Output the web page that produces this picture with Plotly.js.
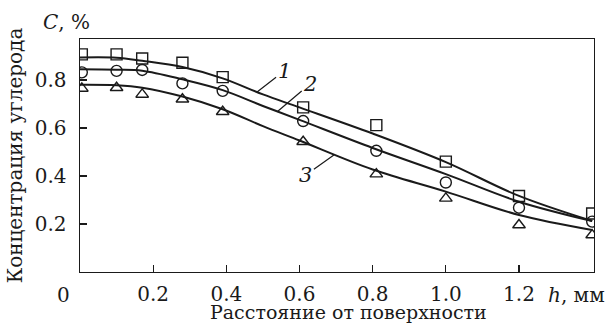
<!DOCTYPE html>
<html>
<head>
<meta charset="utf-8">
<script src="https://cdn.plot.ly/plotly-3.0.1.min.js"></script>
<style>html,body{margin:0;padding:0;background:#fff;}#chart{width:607px;height:323px;}</style>
</head>
<body>
<div id="chart"></div>
<script>
// Measured points
const hPts = [0.005, 0.10, 0.17, 0.28, 0.39, 0.61, 0.81, 1.00, 1.20, 1.40];
const c1Pts = [0.907, 0.907, 0.890, 0.872, 0.812, 0.686, 0.612, 0.460, 0.317, 0.244];
const c2Pts = [0.832, 0.838, 0.842, 0.786, 0.755, 0.629, 0.505, 0.373, 0.268, 0.210];
const c3Pts = [0.765, 0.768, 0.740, 0.720, 0.668, 0.543, 0.408, 0.307, 0.196, 0.154];
// Fitted curves
const hCurve = [0.0, 0.10, 0.17, 0.28, 0.39, 0.50, 0.60, 0.80, 1.00, 1.20, 1.40];
const c1Curve = [0.894, 0.893, 0.880, 0.854, 0.807, 0.740, 0.686, 0.577, 0.458, 0.317, 0.2125];
const c2Curve = [0.845, 0.843, 0.839, 0.803, 0.758, 0.692, 0.634, 0.517, 0.408, 0.293, 0.2125];
const c3Curve = [0.780, 0.778, 0.768, 0.731, 0.678, 0.608, 0.548, 0.427, 0.335, 0.2375, 0.175];
const curveLabels = ['1', '2', '3'];
const xTicks = [0.2, 0.4, 0.6, 0.8, 1.0, 1.2];
const xTickText = ['0.2', '0.4', '0.6', '0.8', '1.0', '1.2'];
const yTicks = [0.2, 0.4, 0.6, 0.8];
const yTickText = ['0.2', '0.4', '0.6', '0.8'];

const F = 'DejaVu Serif';
const curveStyle = {color: '#1a1a1a', width: 2, shape: 'spline', smoothing: 1};
function markers(y, sym) {
  return {x: hPts, y: y, mode: 'markers', type: 'scatter', showlegend: false, hoverinfo: 'skip',
    marker: {symbol: sym, size: 11, color: '#1a1a1a', line: {color: '#1a1a1a', width: 1.4}}};
}
function curve(y) {
  return {x: hCurve, y: y, mode: 'lines', type: 'scatter', showlegend: false, hoverinfo: 'skip', line: curveStyle};
}
const data = [
  curve(c1Curve), curve(c2Curve), curve(c3Curve),
  markers(c1Pts, 'square-open'), markers(c2Pts, 'circle-open'), markers(c3Pts, 'triangle-up-open')
];
function leader(txt, x, y, ax, ay) {
  return {text: '<i>' + txt + '</i>', x: x, y: y, xref: 'x', yref: 'y', ax: ax, ay: ay,
    showarrow: true, arrowhead: 0, arrowwidth: 1.2, arrowcolor: '#1a1a1a', standoff: 0, startstandoff: 0,
    font: {family: F, size: 21, color: '#1a1a1a'}};
}
const layout = {
  width: 607, height: 323,
  margin: {l: 80, r: 13, t: 39, b: 51, pad: 0},
  paper_bgcolor: '#fff', plot_bgcolor: '#fff',
  font: {family: F, size: 20, color: '#1a1a1a'},
  showlegend: false,
  xaxis: {range: [0, 1.405], tickvals: xTicks, ticktext: xTickText, ticks: 'inside', ticklen: 7, tickwidth: 1.2,
    tickcolor: '#1a1a1a', showline: true, linecolor: '#1a1a1a', linewidth: 1.4, mirror: true, showgrid: false,
    zeroline: false, fixedrange: true, tickfont: {family: F, size: 20}, ticklabelstandoff: 4},
  yaxis: {range: [0, 0.971], tickvals: yTicks, ticktext: yTickText, ticks: 'inside', ticklen: 7, tickwidth: 1.2,
    tickcolor: '#1a1a1a', showline: true, linecolor: '#1a1a1a', linewidth: 1.4, mirror: true, showgrid: false,
    zeroline: false, fixedrange: true, tickfont: {family: F, size: 20}, ticklabelstandoff: 8,
    title: {text: 'Концентрация углерода', font: {family: F, size: 20}, standoff: 6}},
  annotations: [
    {text: 'Расстояние от поверхности', xref: 'paper', yref: 'paper', x: (348 - 80) / 514, y: 0,
      xanchor: 'center', yanchor: 'middle', yshift: -40, showarrow: false, font: {family: F, size: 19}},
    {text: '0', xref: 'paper', yref: 'paper', x: 0, y: 0, xanchor: 'center', yanchor: 'middle',
      xshift: -17, yshift: -23, showarrow: false, font: {family: F, size: 20}},
    {text: '<i>h</i>, мм', xref: 'paper', yref: 'paper', x: 1, y: 0, xanchor: 'right', yanchor: 'middle',
      xshift: 13, yshift: -23, showarrow: false, font: {family: F, size: 20}},
    {text: '<i>C</i>, %', xref: 'paper', yref: 'paper', x: 0, y: 1, xanchor: 'left', yanchor: 'middle',
      xshift: -39, yshift: 17, showarrow: false, font: {family: F, size: 20}},
    leader(curveLabels[0], 0.484, 0.750, 27, -21),
    leader(curveLabels[1], 0.539, 0.668, 33, -28),
    leader(curveLabels[2], 0.694, 0.4875, -28, 20)
  ]
};
Plotly.newPlot('chart', data, layout, {staticPlot: true, displayModeBar: false});
</script>
</body>
</html>
